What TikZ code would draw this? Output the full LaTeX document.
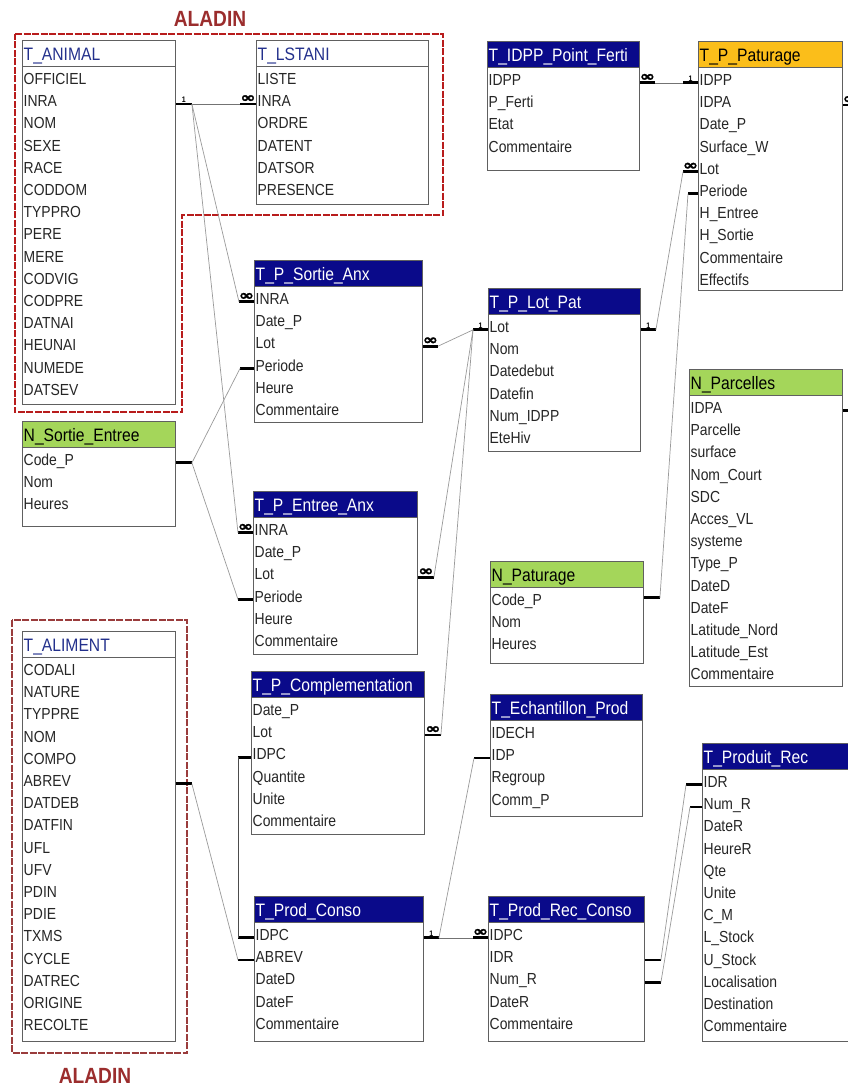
\documentclass[tikz,border=0pt]{standalone}
\usepackage{fontspec}
\setmainfont{Liberation Sans}[FakeStretch=0.87]
\newfontfamily\symfont{DejaVu Sans}[FakeStretch=1.3, FakeBold=1.5]
\usetikzlibrary{calc}

\definecolor{hdrnavy}{HTML}{0A0A8A}
\definecolor{ttlblue}{HTML}{23308C}
\definecolor{patorange}{HTML}{FBBE1A}
\definecolor{nomgreen}{HTML}{A4D65A}
\definecolor{aladinred}{HTML}{B81C1C}
\definecolor{aladinbrown}{HTML}{9A3C3C}
\definecolor{aladintxt}{HTML}{9B2D2D}
\definecolor{tblline}{HTML}{606060}
\definecolor{relgray}{HTML}{9A9A9A}

\tikzset{
  tblbody/.style={draw=tblline, line width=0.9pt, fill=white, inner sep=0pt},
  tblhead/.style={draw=tblline, line width=0.9pt, minimum height=26pt, inner sep=0pt},
  headtxt/.style={font=\fontsize{18}{18}\selectfont, inner xsep=1.5pt, inner ysep=0pt},
  fieldtxt/.style={font=\fontsize{16}{16}\selectfont, text=black!85, inner xsep=1.5pt, inner ysep=0pt},
  navyhead/.style={fill=hdrnavy, text=white},
  whitehead/.style={fill=white, text=ttlblue},
  orangehead/.style={fill=patorange, text=black},
  greenhead/.style={fill=nomgreen, text=black},
  stub/.style={line width=2.8pt, black},
  rel/.style={relgray, line width=0.7pt},
  card/.style={font=\fontsize{8}{8}\selectfont\bfseries, inner sep=0pt, anchor=south},
  aladinbox/.style={aladinred, line width=2.8pt, dash pattern=on 7pt off 1.5pt},
  aladinbox2/.style={aladinbrown, line width=2.2pt, dash pattern=on 7pt off 1.5pt},
  aladinlbl/.style={font=\fontsize{22}{22}\selectfont\bfseries, text=aladintxt, inner sep=0pt, anchor=base}
}

% table: id, x, y, width, body height, header style, title, fields
\newcommand{\erTable}[8]{%
  \node[tblbody, minimum width=#4, minimum height=#5, anchor=north west] (#1-b) at (#2,#3+26) {};
  \node[tblhead, #6, minimum width=#4, anchor=north west] (#1) at (#2,#3) {};
  \node[headtxt, #6, fill=none, anchor=base west] (#1-t) at ($(#1.north west)+(0,20)$) {#7};
  \foreach \fld [count=\i] in {#8}
    \node[fieldtxt, anchor=base west] (#1-\fld) at ($(#1-b.north west)+(0,{18.5+22.2*(\i-1)})$) {\fld};
}
% relation end: [label], coordinate, start point, length
\newcommand{\erEnd}[4][]{%
  \draw[stub] #3 -- ++(#4,0) coordinate (#2);
  \if\relax\detokenize{#1}\relax\else
    \node[card] (#2-card) at ($#3+(#4/2,-1.6)$) {#1};
  \fi}
\newcommand{\manyMark}{{\symfont\fontsize{14}{14}\selectfont ∞}}

\begin{document}
\catcode`\_=12
\begin{tikzpicture}[x=1pt, y=-1pt]
    \path[fill=white, use as bounding box] (0,0) rectangle (848,1088);

    % ALADIN
    \draw[aladinbox] (15,34) -- (443,34) -- (443,215) -- (182,215) -- (182,412) -- (15,412) -- cycle;
    \node[aladinlbl] (aladin-top) at (210,26) {ALADIN};
    \draw[aladinbox2] (12,620) rectangle (187,1053);
    \node[aladinlbl] (aladin-bot) at (95,1083) {ALADIN};

    % tables
    \erTable{animal}{22}{40}{153}{338}{whitehead}{T_ANIMAL}{OFFICIEL,INRA,NOM,SEXE,RACE,CODDOM,TYPPRO,PERE,MERE,CODVIG,CODPRE,DATNAI,HEUNAI,NUMEDE,DATSEV}
    \erTable{lstani}{256}{40}{172}{138}{whitehead}{T_LSTANI}{LISTE,INRA,ORDRE,DATENT,DATSOR,PRESENCE}
    \erTable{ferti}{487}{41}{152}{103}{navyhead}{T_IDPP_Point_Ferti}{IDPP,P_Ferti,Etat,Commentaire}
    \erTable{patur}{698}{41}{144}{223}{orangehead}{T_P_Paturage}{IDPP,IDPA,Date_P,Surface_W,Lot,Periode,H_Entree,H_Sortie,Commentaire,Effectifs}
    \erTable{sortie}{254}{260}{168}{136}{navyhead}{T_P_Sortie_Anx}{INRA,Date_P,Lot,Periode,Heure,Commentaire}
    \erTable{nse}{22}{421}{153}{79}{greenhead}{N_Sortie_Entree}{Code_P,Nom,Heures}
    \erTable{entree}{253}{491}{164}{137}{navyhead}{T_P_Entree_Anx}{INRA,Date_P,Lot,Periode,Heure,Commentaire}
    \erTable{lotpat}{488}{288}{152}{137}{navyhead}{T_P_Lot_Pat}{Lot,Nom,Datedebut,Datefin,Num_IDPP,EteHiv}
    \erTable{parc}{689}{369}{153}{291}{greenhead}{N_Parcelles}{IDPA,Parcelle,surface,Nom_Court,SDC,Acces_VL,systeme,Type_P,DateD,DateF,Latitude_Nord,Latitude_Est,Commentaire}
    \erTable{npat}{490}{561}{153}{76}{greenhead}{N_Paturage}{Code_P,Nom,Heures}
    \erTable{aliment}{22}{631}{153}{384}{whitehead}{T_ALIMENT}{CODALI,NATURE,TYPPRE,NOM,COMPO,ABREV,DATDEB,DATFIN,UFL,UFV,PDIN,PDIE,TXMS,CYCLE,DATREC,ORIGINE,RECOLTE}
    \erTable{compl}{251}{671}{173}{137}{navyhead}{T_P_Complementation}{Date_P,Lot,IDPC,Quantite,Unite,Commentaire}
    \erTable{pconso}{254}{896}{169}{119}{navyhead}{T_Prod_Conso}{IDPC,ABREV,DateD,DateF,Commentaire}
    \erTable{echant}{490}{694}{152}{96}{navyhead}{T_Echantillon_Prod}{IDECH,IDP,Regroup,Comm_P}
    \erTable{prconso}{488}{896}{156}{119}{navyhead}{T_Prod_Rec_Conso}{IDPC,IDR,Num_R,DateR,Commentaire}
    \erTable{prodrec}{702}{743}{170}{272}{navyhead}{T_Produit_Rec}{IDR,Num_R,DateR,HeureR,Qte,Unite,C_M,L_Stock,U_Stock,Localisation,Destination,Commentaire}

    % relation ends
    \erEnd[1]{r1a}{(animal-b.east |- animal-INRA.mid)}{16}
    \erEnd[\manyMark]{r1b}{(lstani-b.west |- lstani-INRA.mid)}{-16}
    \erEnd[\manyMark]{r2b}{(sortie-b.west |- sortie-INRA.mid)}{-15}
    \erEnd[\manyMark]{r3b}{(entree-b.west |- entree-INRA.mid)}{-15}
    \erEnd{r4a}{(nse-b.east |- nse-Code_P.mid)}{16}
    \erEnd{r4b}{(sortie-b.west |- sortie-Periode.mid)}{-14}
    \erEnd{r4c}{(entree-b.west |- entree-Periode.mid)}{-15}
    \erEnd[\manyMark]{r5a}{(sortie-b.east |- sortie-Lot.mid)}{15}
    \erEnd[\manyMark]{r5c}{(entree-b.east |- entree-Lot.mid)}{16}
    \erEnd[\manyMark]{r5d}{(compl-b.east |- compl-Lot.mid)}{16}
    \erEnd[1]{r5b}{(lotpat-b.west |- lotpat-Lot.mid)}{-15}
    \erEnd[1]{r6a}{(lotpat-b.east |- lotpat-Lot.mid)}{15}
    \erEnd[\manyMark]{r6b}{(patur-b.west |- patur-Lot.mid)}{-15}
    \erEnd{r7a}{($(npat-b.east |- npat-Code_P.mid)+(0,-5)$)}{16}
    \erEnd{r7b}{(patur-b.west |- patur-Periode.mid)}{-10}
    \erEnd[\manyMark]{r8a}{(ferti-b.east |- ferti-IDPP.mid)}{15}
    \erEnd[1]{r8b}{(patur-b.west |- patur-IDPP.mid)}{-15}
    \erEnd[\manyMark]{r9a}{(patur-b.east |- patur-IDPA.mid)}{15}
    \erEnd{r9b}{(parc-b.east |- parc-IDPA.mid)}{15}
    \erEnd{r10a}{(aliment-b.east |- aliment-ABREV.mid)}{16}
    \erEnd{r10b}{(pconso-b.west |- pconso-ABREV.mid)}{-16}
    \erEnd{r11a}{(compl-b.west |- compl-IDPC.mid)}{-13}
    \erEnd{r11b}{(pconso-b.west |- pconso-IDPC.mid)}{-16}
    \erEnd[1]{r12a}{(pconso-b.east |- pconso-IDPC.mid)}{15}
    \erEnd[\manyMark]{r12b}{(prconso-b.west |- prconso-IDPC.mid)}{-15}
    \erEnd{r12c}{(echant-b.west |- echant-IDP.mid)}{-16}
    \erEnd{r13a}{(prconso-b.east |- prconso-IDR.mid)}{16}
    \erEnd{r13b}{(prodrec-b.west |- prodrec-IDR.mid)}{-16}
    \erEnd{r13c}{(prconso-b.east |- prconso-Num_R.mid)}{16}
    \erEnd{r13d}{(prodrec-b.west |- prodrec-Num_R.mid)}{-12}

    % relations
    \draw[rel, black!55] (r1a) -- (r1b);
    \draw[rel] (r1a) -- (r2b);
    \draw[rel] (r1a) -- (r3b);
    \draw[rel] (r4b) -- (r4a) -- (r4c);
    \draw[rel] (r5a) -- (r5b) -- (r5c);
    \draw[rel] (r5b) -- (r5d);
    \draw[rel] (r6a) -- (r6b);
    \draw[rel] (r7a) -- (r7b);
    \draw[rel, black!55] (r8a) -- (r8b);
    \draw[rel] (r9a) -- ++(12,0) |- (r9b);
    \draw[rel] (r10a) -- (r10b);
    \draw[rel, black!70] (r11a) -- (r11b);
    \draw[rel, black!55] (r12a) -- (r12b);
    \draw[rel] (r12a) -- (r12c);
    \draw[rel] (r13a) -- (r13b);
    \draw[rel] (r13c) -- (r13d);
\end{tikzpicture}
\end{document}
